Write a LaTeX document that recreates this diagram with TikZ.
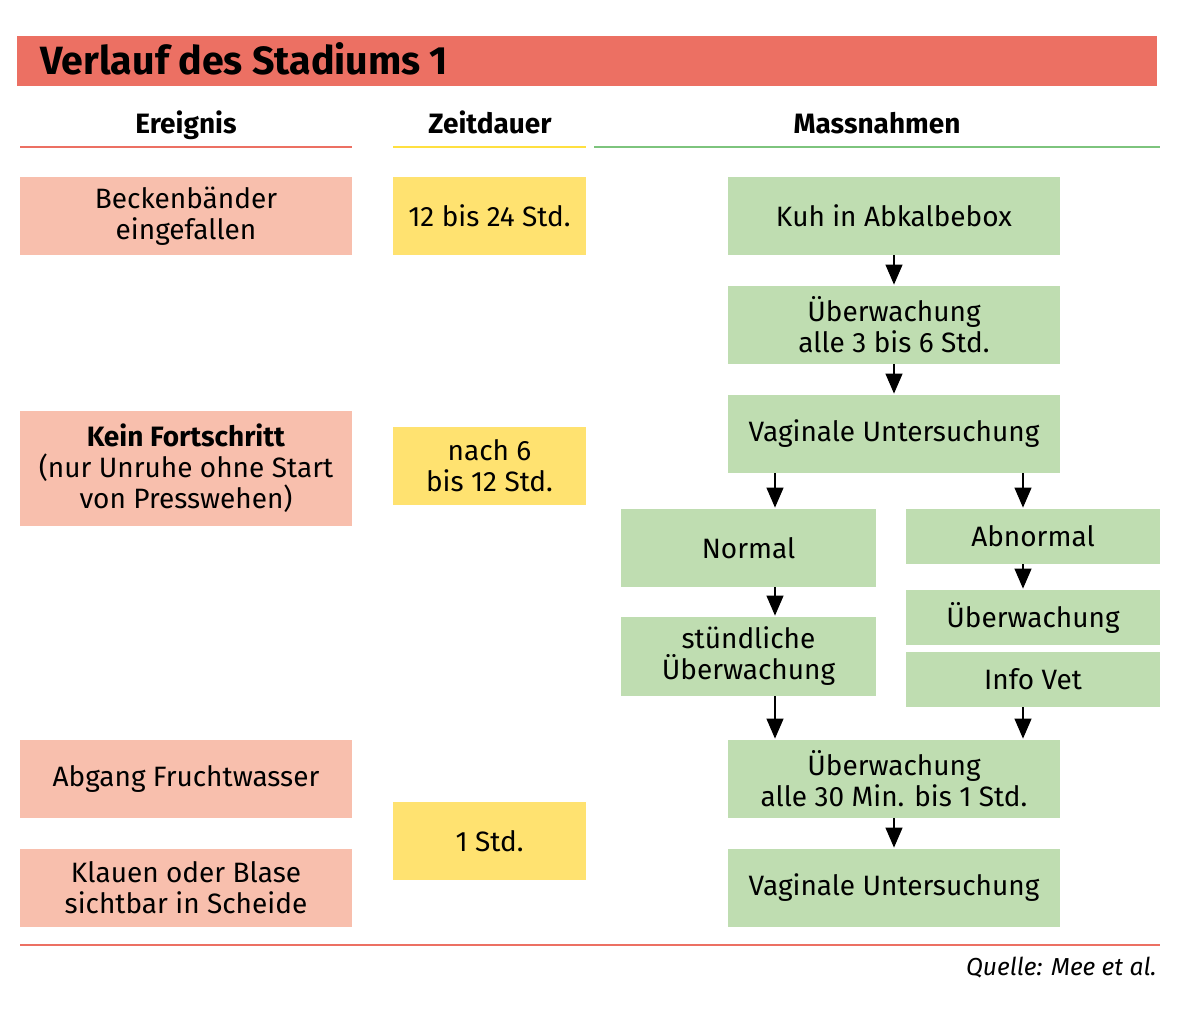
\documentclass[tikz,border=0pt]{standalone}
\usepackage{fontspec}
\setmainfont{Fira Sans}
\usetikzlibrary{arrows.meta}
\definecolor{titlered}{HTML}{EC7063}
\definecolor{salmon}{HTML}{F8BFAD}
\definecolor{yel}{HTML}{FFE270}
\definecolor{yelline}{HTML}{FFE040}
\definecolor{grn}{HTML}{BFDDB1}
\definecolor{grnline}{HTML}{7DC47D}
\tikzset{
  base/.style={inner sep=0pt, align=center, font=\fontsize{14}{15.5}\selectfont, text=black},
  lbox/.style={base, fill=salmon, minimum width=166pt, minimum height=39pt},
  ybox/.style={base, fill=yel, minimum width=96.5pt, minimum height=39pt},
  gbox/.style={base, fill=grn, minimum width=166pt, minimum height=39pt},
  sbox/.style={base, fill=grn, minimum width=127.5pt, minimum height=39pt},
  tbox/.style={base, fill=grn, minimum width=127pt, minimum height=27.5pt},
  hdr/.style={inner sep=0pt, anchor=base, font=\fontsize{14}{16}\selectfont\bfseries},
  arr/.style={-{Triangle[length=10pt,width=8.5pt]}, line width=0.6pt, shorten >=0.5pt}
}
\begin{document}
\begin{tikzpicture}[x=0.5pt,y=-0.5pt]
\useasboundingbox (0,0) rectangle (1200,1010);
% title
\node[fill=titlered, minimum width=570pt, minimum height=25pt, inner sep=0pt] (tbar) at (587,61) {};
\node[anchor=base west, inner sep=0pt, font=\fontsize{19.7}{22}\selectfont\bfseries] (title) at (40,75) {Verlauf des Stadiums 1};
% headers
\node[hdr] (h1) at (186,134) {Ereignis};
\node[hdr] (h2) at (490,134) {Zeitdauer};
\node[hdr] (h3) at (877,134) {Massnahmen};
\coordinate (u1a) at (20,147); \coordinate (u1b) at (352,147);
\coordinate (u2a) at (393,147); \coordinate (u2b) at (586,147);
\coordinate (u3a) at (594,147); \coordinate (u3b) at (1160,147);
\draw[titlered, line width=1pt] (u1a) -- (u1b);
\draw[yelline, line width=1.2pt] (u2a) -- (u2b);
\draw[grnline, line width=1pt] (u3a) -- (u3b);
% left column
\node[lbox] (L1) at (186,216) {Beckenbänder\\eingefallen};
\node[lbox, minimum height=57.5pt] (L2) at (186,468.5) {\textbf{Kein Fortschritt}\\(nur Unruhe ohne Start\\von Presswehen)};
\node[lbox] (L3) at (186,779) {Abgang Fruchtwasser};
\node[lbox] (L4) at (186,888) {Klauen oder Blase\\sichtbar in Scheide};
% middle column
\node[ybox] (Y1) at (489.5,216) {12 bis 24 Std.};
\node[ybox] (Y2) at (489.5,466) {nach 6\\bis 12 Std.};
\node[ybox] (Y3) at (489.5,841) {1 Std.};
% right column
\node[gbox] (G1) at (894,216) {Kuh in Abkalbebox};
\node[gbox] (G2) at (894,325) {Überwachung\\alle 3 bis 6 Std.};
\node[gbox] (G3) at (894,434) {Vaginale Untersuchung};
\node[sbox] (N) at (748.5,548) {Normal};
\node[sbox, minimum height=39.5pt] (S) at (748.5,656.5) {stündliche\\Überwachung};
\node[tbox] (A) at (1033,536.5) {Abnormal};
\node[tbox] (U) at (1033,617.5) {Überwachung};
\node[tbox] (V) at (1033,679.5) {Info Vet};
\node[gbox] (G4) at (894,779) {Überwachung\\alle 30 Min. bis 1 Std.};
\node[gbox] (G5) at (894,888) {Vaginale Untersuchung};
% arrows
\coordinate (cxL) at (775,0);
\coordinate (cxR) at (1023,0);
\draw[arr] (G1) -- (G2);
\draw[arr] (G2) -- (G3);
\draw[arr] (G3.south -| cxL) -- (N.north -| cxL);
\draw[arr] (G3.south -| cxR) -- (A.north -| cxR);
\draw[arr] (N.south -| cxL) -- (S.north -| cxL);
\draw[arr] (A.south -| cxR) -- (U.north -| cxR);
\draw[arr] (S.south -| cxL) -- (G4.north -| cxL);
\draw[arr] (V.south -| cxR) -- (G4.north -| cxR);
\draw[arr] (G4) -- (G5);
% footer
\coordinate (fa) at (20,945); \coordinate (fb) at (1160,945);
\draw[titlered, line width=1pt] (fa) -- (fb);
\node[anchor=base east, inner sep=0pt, font=\fontsize{12.3}{14}\selectfont\itshape] (src) at (1157,975) {Quelle: Mee et al.};
\end{tikzpicture}
\end{document}
